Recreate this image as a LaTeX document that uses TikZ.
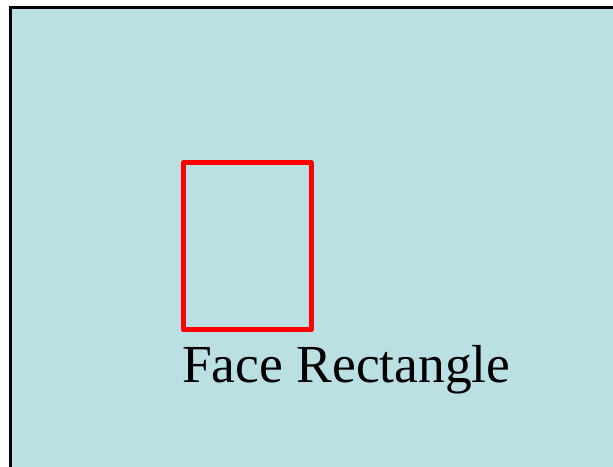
\documentclass[tikz,border=0pt]{standalone}
\usepackage{fontspec}
\setmainfont{Liberation Serif}
\definecolor{bgblue}{RGB}{186,224,227}
\definecolor{facered}{RGB}{255,0,0}
\begin{document}
\begin{tikzpicture}[x=1pt,y=1pt,
  facebox/.style={draw=facered,line width=5pt,line join=round,inner sep=0pt},
  caption/.style={font=\fontsize{53.5}{60}\selectfont,inner sep=0pt,text=black}]
\useasboundingbox (0,0) rectangle (613,466);
\begin{scope}
\clip (0,0) rectangle (613,466);
\fill[bgblue] (10,-10) rectangle (630,458);
\draw[black,line width=3pt] (10,-10) -- (10,458) -- (630,458);
\end{scope}
\node[facebox,minimum width=127.5pt,minimum height=167.5pt] (face) at (247.25,219.75) {};
\node[caption,anchor=base west] (label) at (182,83.3) {Face Rectangle};
\end{tikzpicture}
\end{document}
